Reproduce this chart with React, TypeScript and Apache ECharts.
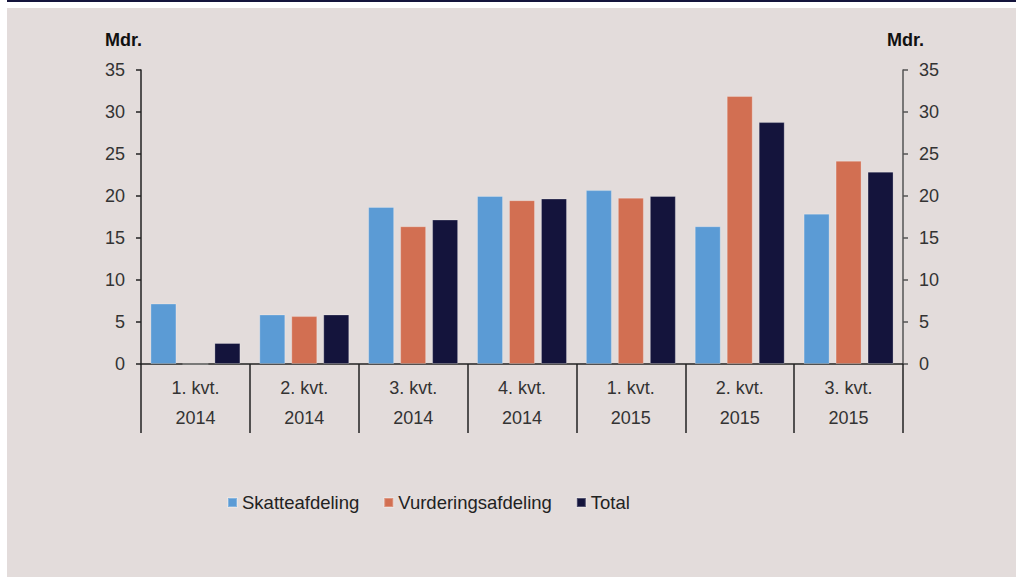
import React, { useEffect, useRef } from "react";
import * as echarts from "echarts";

const quarters = ["1. kvt.", "2. kvt.", "3. kvt.", "4. kvt.", "1. kvt.", "2. kvt.", "3. kvt."];
const years = ["2014", "2014", "2014", "2014", "2015", "2015", "2015"];
const skatteafdeling = [7.2, 5.9, 18.7, 20.0, 20.7, 16.4, 17.9];
const vurderingsafdeling = [0, 5.7, 16.4, 19.5, 19.8, 31.9, 24.2];
const total = [2.5, 5.9, 17.2, 19.7, 20.0, 28.8, 22.9];
const seriesNames = ["Skatteafdeling", "Vurderingsafdeling", "Total"];
const colors = ["#5b9bd5", "#d26f52", "#14143c"];
const yTicks = { min: 0, max: 35, interval: 5 };

export default function App() {
  const ref = useRef<HTMLDivElement>(null);
  useEffect(() => {
    document.body.style.margin = "0";
    const chart = echarts.init(ref.current!, null, { renderer: "svg" });
    const font = "Arial, 'Liberation Sans', sans-serif";
    const categories = quarters.map((q, i) => q + "\n" + years[i]);
    const yAxisBase = {
      type: "value" as const,
      min: yTicks.min,
      max: yTicks.max,
      interval: yTicks.interval,
      splitLine: { show: false },
      axisTick: { show: true, length: 5, lineStyle: { color: "#222", width: 1.5 } },
      axisLabel: { fontSize: 18, color: "#333", fontFamily: font, margin: 16 },
    };
    const mk = (name: string, data: number[], color: string) => ({
      name,
      type: "bar" as const,
      data,
      barWidth: 26,
      barGap: "23%",
      itemStyle: { color, borderColor: "rgba(255,255,255,0.25)", borderWidth: 1 },
    });
    chart.setOption({
      animation: false,
      backgroundColor: "#ffffff",
      textStyle: { fontFamily: font },
      graphic: [
        { type: "rect", shape: { x: 7, y: 8, width: 1009, height: 569 }, style: { fill: "#e3dcdb" }, z: -10, silent: true },
        { type: "rect", shape: { x: 7, y: 0, width: 1009, height: 2 }, style: { fill: "#14143c" }, silent: true },
        { type: "text", left: 105, top: 31, style: { text: "Mdr.", fontSize: 18, fontWeight: "bold", fill: "#111", fontFamily: font } },
        { type: "text", left: 887, top: 31, style: { text: "Mdr.", fontSize: 18, fontWeight: "bold", fill: "#111", fontFamily: font } },
      ],
      grid: { left: 141, right: 113, top: 70, bottom: 213, containLabel: false },
      legend: {
        left: 222,
        top: 488,
        itemWidth: 9,
        itemHeight: 9,
        itemGap: 24,
        icon: "rect",
        data: seriesNames,
        textStyle: { fontSize: 18.5, color: "#222", fontFamily: font },
      },
      xAxis: {
        type: "category",
        data: categories,
        axisLine: { lineStyle: { color: "#222", width: 1.5 } },
        axisTick: { show: true, length: 69, interval: 0, lineStyle: { color: "#222", width: 1.5 } },
        axisLabel: { interval: 0, fontSize: 18, lineHeight: 30, color: "#333", fontFamily: font, margin: 9 },
      },
      yAxis: [
        { ...yAxisBase, position: "left", axisLine: { show: true, lineStyle: { color: "#222", width: 1.5 } } },
        { ...yAxisBase, position: "right", axisLine: { show: true, lineStyle: { color: "#555", width: 1.5 } }, axisTick: { show: true, length: 5, lineStyle: { color: "#555", width: 1.5 } } },
      ],
      series: [
        mk(seriesNames[0], skatteafdeling, colors[0]),
        mk(seriesNames[1], vurderingsafdeling, colors[1]),
        mk(seriesNames[2], total, colors[2]),
      ],
    });
    return () => chart.dispose();
  }, []);
  return <div ref={ref} style={{ width: 1016, height: 577 }} />;
}
